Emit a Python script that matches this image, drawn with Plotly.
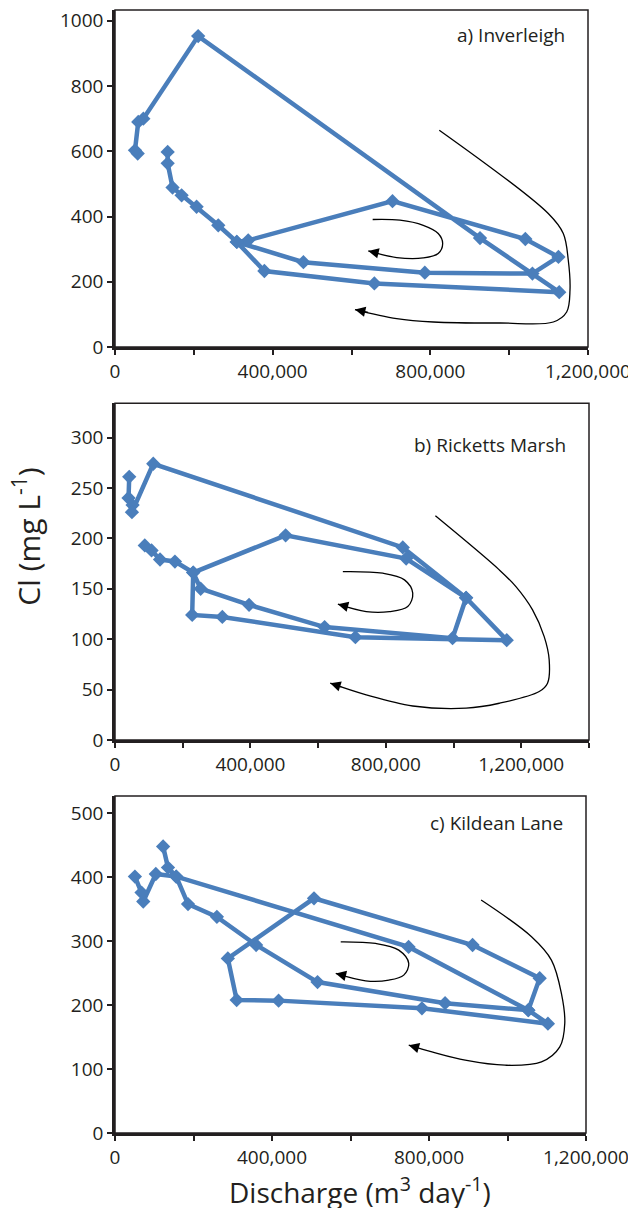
import plotly.graph_objects as go

# ---------------- data ----------------
# a) Inverleigh
x_a = [57600, 50700, 59000, 71900, 211000, 926000, 1127000, 658000, 379000, 309000, 338000,
       704000, 1041000, 1125000, 1059000, 786000, 478000, 309000, 262000, 207000, 169000,
       146000, 133600, 133600]
y_a = [593, 603, 690, 700, 953, 334, 168, 195, 233, 322, 327,
       447, 331, 276, 225, 228, 260, 322, 373, 430, 465,
       489, 563, 598]

# b) Ricketts Marsh
x_b = [42000, 40000, 52000, 50000, 113000, 850000, 1037000, 1157000, 710000, 317000, 228000,
       231000, 504000, 860000, 1037000, 997000, 619000, 396000, 253000, 231000, 177000,
       133000, 108000, 88000]
y_b = [261, 240, 233, 226, 274, 191, 141, 99, 102, 122, 124,
       166, 203, 180, 141, 101, 112, 134, 150, 166, 177,
       179, 188, 193]

# c) Kildean Lane
x_c = [122600, 135000, 156000, 748000, 1053000, 1103000, 782000, 416800, 310000, 287500,
       507000, 911000, 1082000, 1053000, 841000, 516000, 359500, 259600, 186000, 156000,
       104000, 72000, 67600, 50700]
y_c = [448, 415, 401, 291, 192, 171, 195, 207, 208, 273,
       367, 294, 242, 192, 203, 236, 294, 338, 358, 401,
       405, 362, 376, 401]

panel_labels = ["a) Inverleigh", "b) Ricketts Marsh", "c) Kildean Lane"]
x_tick_vals = [0, 400000, 800000, 1200000]
y_title = "Cl (mg L<sup>-1</sup>)"
x_title = "Discharge (m<sup>3</sup> day<sup>-1</sup>)"

# hysteresis direction arrows (annotation curves, data coordinates)
outer_a = [(822700, 664.7), (1099200, 409.2), (1137300, 347.9), (1150000, 266), (1154300, 174),
           (1145900, 107.4), (1112000, 76.7), (976700, 73.6), (807500, 76.7), (714600, 87.1),
           (608800, 114.7)]
inner_a = [(653700, 390.8), (723000, 388.7), (782000, 373), (820000, 347.9), (831300, 317.2),
           (820000, 286.5), (782000, 273), (714600, 274.2), (642600, 294.5)]
outer_b = [(946300, 222.3), (1135000, 168.7), (1184200, 152.1), (1233300, 129), (1267700, 102.5),
           (1282400, 79.4), (1277500, 56.3), (1253000, 48), (1135000, 36.4), (1037000, 31.5),
           (879400, 33.7), (742000, 44.7), (635800, 56.3)]
inner_b = [(673000, 167), (791000, 165.4), (855000, 158.8), (879400, 145.6), (864700, 132.3),
           (810700, 127.3), (742000, 127.3), (658300, 134.7)]
outer_c = [(932800, 364.3), (1061200, 306.9), (1111900, 270.4), (1137300, 218.3), (1145900, 171.3),
           (1133200, 134.7), (1086500, 111.2), (993700, 106), (892200, 113.8), (807500, 126.8),
           (748400, 137.3)]
inner_c = [(575100, 299), (663900, 296.5), (723000, 286), (748400, 265.2), (735700, 246.9),
           (697600, 239.1), (638500, 238), (562400, 249.6)]

# ---------------- style ----------------
BLUE = "#4a7ebb"
INK = "#231f20"
FONT = "Open Sans"
TICK_SIZE = 19

panels = [
    dict(x=x_a, y=y_a, xa="x", ya="y", curves=[outer_a, inner_a], yr=[0, 1033], dt=200,
         xr=[0, 1200000], xdom=[0, 473 / 474], ydom=[0.6999, 1.0], ly=0.926),
    dict(x=x_b, y=y_b, xa="x2", ya="y2", curves=[outer_b, inner_b], yr=[0, 334], dt=50,
         xr=[0, 1400000], xdom=[0, 1.0], ydom=[0.350, 0.6498], ly=0.875),
    dict(x=x_c, y=y_c, xa="x3", ya="y3", curves=[outer_c, inner_c], yr=[0, 527], dt=100,
         xr=[0, 1200000], xdom=[0, 471 / 474], ydom=[0.0, 0.3001], ly=0.92),
]

fig = go.Figure()
annotations = []
shapes = []
layout = {}

for i, p in enumerate(panels):
    sfx = "" if i == 0 else str(i + 1)
    fig.add_trace(go.Scatter(
        x=p["x"], y=p["y"], xaxis=p["xa"], yaxis=p["ya"], mode="lines+markers",
        line=dict(color=BLUE, width=4.5),
        marker=dict(symbol="diamond", size=11, color=BLUE),
        hoverinfo="skip", showlegend=False))
    for curve in p["curves"]:
        cx = [c[0] for c in curve]
        cy = [c[1] for c in curve]
        fig.add_trace(go.Scatter(
            x=cx, y=cy, xaxis=p["xa"], yaxis=p["ya"], mode="lines",
            line=dict(color="black", width=1.3, shape="spline", smoothing=1.0),
            hoverinfo="skip", showlegend=False))
        tx, ty = curve[-1]
        px_, py_ = curve[-2]
        annotations.append(dict(
            x=tx, y=ty, ax=tx + 0.35 * (px_ - tx), ay=ty + 0.35 * (py_ - ty),
            xref=p["xa"], yref=p["ya"], axref=p["xa"], ayref=p["ya"],
            text="", showarrow=True, arrowhead=2, arrowsize=1.6, arrowwidth=1.3,
            arrowcolor="black"))
    layout["xaxis" + sfx] = dict(
        domain=p["xdom"], anchor=p["ya"], range=p["xr"],
        tickvals=x_tick_vals, tickformat=",d", ticks="outside", ticklen=5, tickwidth=2,
        tickcolor=INK, showline=True, linewidth=2.5, linecolor=INK, showgrid=False,
        zeroline=False, tickfont=dict(family=FONT, size=TICK_SIZE, color=INK),
        ticklabeloverflow="allow",
        minor=dict(dtick=200000, tick0=0, ticks="outside", ticklen=5, tickwidth=2,
                   tickcolor=INK, showgrid=False))
    layout["yaxis" + sfx] = dict(
        domain=p["ydom"], anchor=p["xa"], range=p["yr"], dtick=p["dt"], tick0=0,
        ticks="outside", ticklen=5, tickwidth=2, tickcolor=INK, showline=True,
        linewidth=2.5, linecolor=INK, showgrid=False, zeroline=False,
        ticklabeloverflow="allow",
        tickfont=dict(family=FONT, size=TICK_SIZE, color=INK))
    shapes.append(dict(type="rect", xref=p["xa"] + " domain", yref=p["ya"] + " domain",
                       x0=0, x1=1, y0=0, y1=1, line=dict(color=INK, width=1.5),
                       layer="above"))
    annotations.append(dict(
        x=0.9556, y=p["ly"], xref=p["xa"] + " domain", yref=p["ya"] + " domain",
        text=panel_labels[i], showarrow=False, xanchor="right", yanchor="middle",
        font=dict(family=FONT, size=19, color=INK)))

annotations.append(dict(
    x=-0.1857, y=0.531, xref="paper", yref="paper", text=y_title, showarrow=False,
    textangle=-90, xanchor="center", yanchor="middle",
    font=dict(family=FONT, size=30, color=INK)))
annotations.append(dict(
    x=0.517, y=-0.0508, xref="paper", yref="paper", text=x_title, showarrow=False,
    xanchor="center", yanchor="middle",
    font=dict(family=FONT, size=28, color=INK)))

# the page body adds an 8 px offset, so the figure is 8 px smaller and shifted
fig.update_layout(
    width=628, height=1200,
    margin=dict(l=107, r=47, t=2, b=75, autoexpand=False),
    paper_bgcolor="white", plot_bgcolor="white",
    annotations=annotations, shapes=shapes, showlegend=False,
    **layout)

fig.write_html("out.html")
